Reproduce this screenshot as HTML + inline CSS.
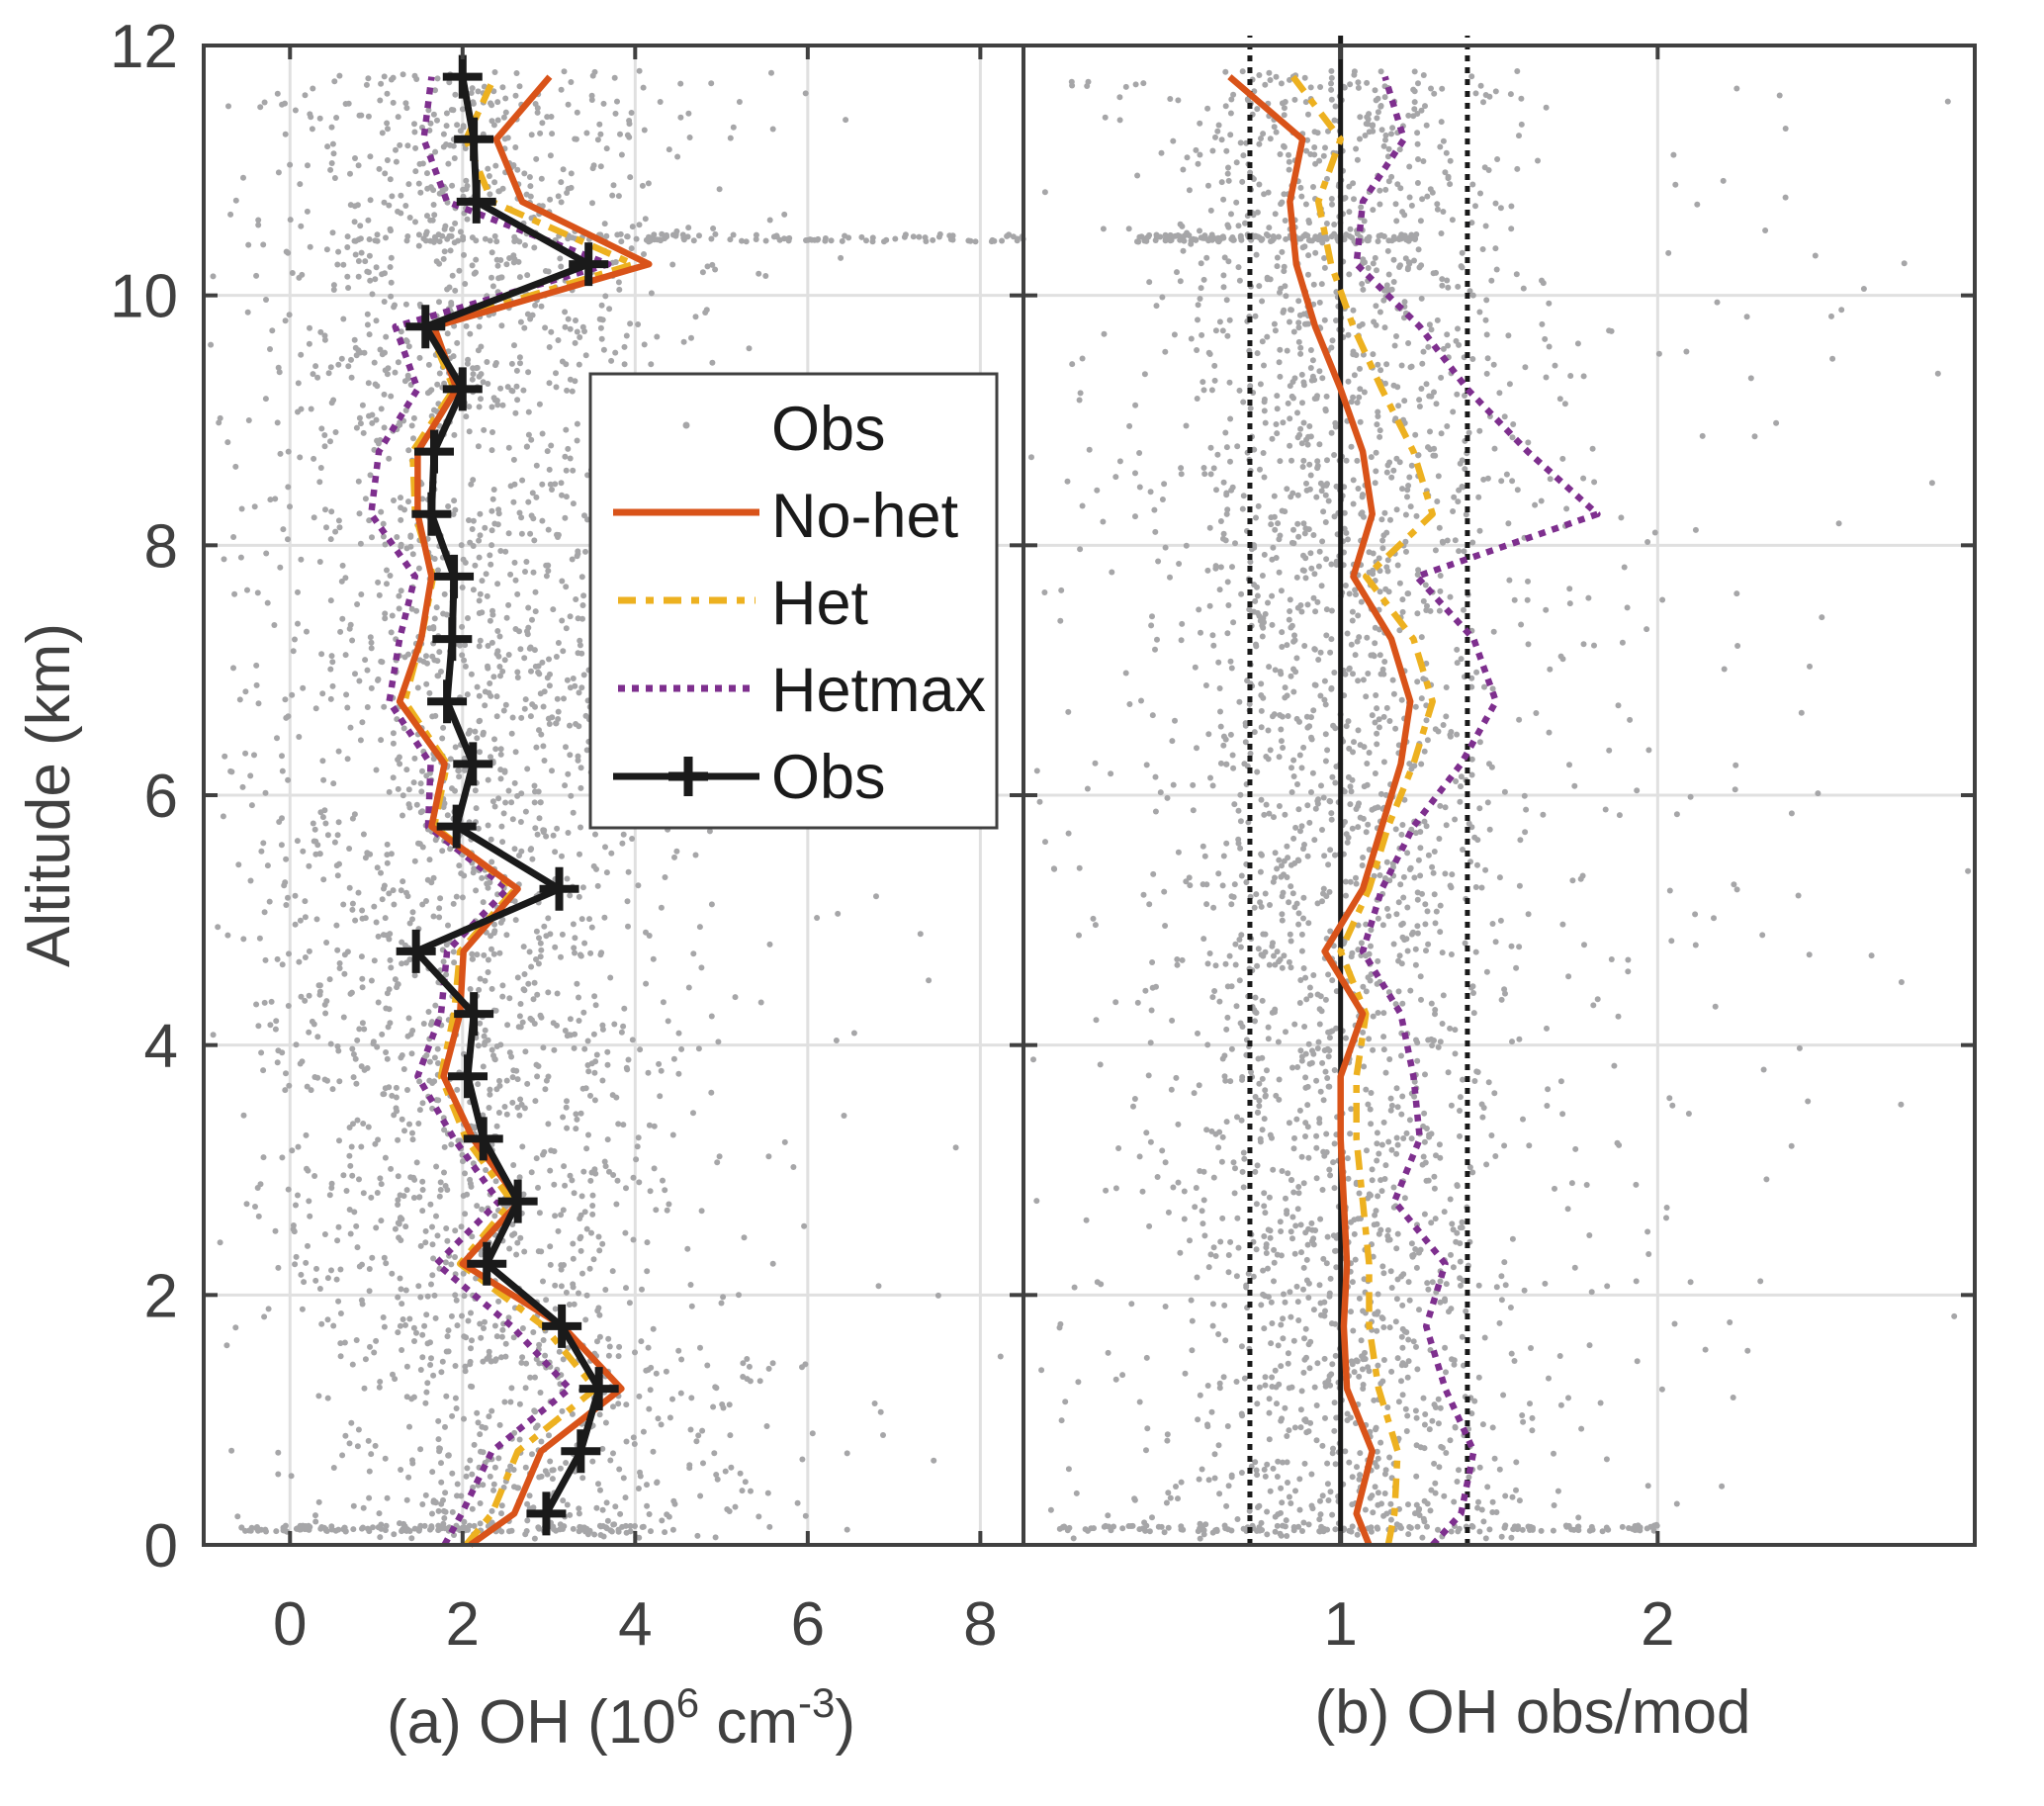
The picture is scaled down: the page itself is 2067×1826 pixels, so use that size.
<!DOCTYPE html>
<html><head><meta charset="utf-8"><style>
html,body{margin:0;padding:0;background:#fff}
svg{display:block}
text{font-family:"Liberation Sans",Arial,sans-serif}
</style></head><body>
<svg id="chart" width="2067" height="1826" viewBox="0 0 2067 1826" xmlns="http://www.w3.org/2000/svg">
<g id="grid"></g>
<g id="dots"></g>
<g id="lines"></g>
<g id="axes"></g>
<g id="legend">
  <rect x="597" y="378" width="411" height="459" fill="#fff" stroke="#404040" stroke-width="3"/>
  <circle cx="694" cy="430" r="3.5" fill="#a6a6a8"/>
  <text x="780" y="455" font-size="63" fill="#1a1a1a">Obs</text>
  <line x1="620" y1="518" x2="768" y2="518" stroke="#d95319" stroke-width="7"/>
  <text x="780" y="543" font-size="63" fill="#1a1a1a">No-het</text>
  <line x1="625" y1="607" x2="764" y2="607" stroke="#edb120" stroke-width="7" stroke-dasharray="18,10,8,10"/>
  <text x="780" y="631" font-size="63" fill="#1a1a1a">Het</text>
  <line x1="625" y1="696" x2="764" y2="696" stroke="#7e2f8e" stroke-width="7" stroke-dasharray="7,7"/>
  <text x="780" y="719" font-size="63" fill="#1a1a1a">Hetmax</text>
  <line x1="620" y1="785" x2="768" y2="785" stroke="#1a1a1a" stroke-width="7"/>
  <path d="M676 785 H716 M696 765 V805" stroke="#1a1a1a" stroke-width="9"/>
  <text x="780" y="807" font-size="63" fill="#1a1a1a">Obs</text>
</g>
</svg>
<script>
// ---- data ----
const altitudes = [0,0.25,0.75,1.25,1.75,2.25,2.75,3.25,3.75,4.25,4.75,5.25,5.75,6.25,6.75,7.25,7.75,8.25,8.75,9.25,9.75,10.25,10.75,11.25,11.75];
const obsAlt = [0.25,0.75,1.25,1.75,2.25,2.75,3.25,3.75,4.25,4.75,5.25,5.75,6.25,6.75,7.25,7.75,8.25,8.75,9.25,9.75,10.25,10.75,11.25,11.75];
const obsOH = [2.97,3.37,3.58,3.15,2.28,2.64,2.24,2.06,2.13,1.46,3.12,1.93,2.12,1.82,1.88,1.9,1.64,1.67,2.0,1.57,3.46,2.16,2.13,2.0];
const noHetOH = [2.09,2.6,2.91,3.84,3.16,2.0,2.66,2.12,1.78,1.97,2.01,2.64,1.64,1.79,1.27,1.52,1.64,1.48,1.48,1.93,1.67,4.16,2.69,2.39,3.01];
const hetOH = [2.04,2.34,2.64,3.54,2.94,1.97,2.57,2.04,1.75,1.9,1.97,2.61,1.67,1.82,1.33,1.52,1.66,1.45,1.42,1.9,1.6,3.98,2.34,2.04,2.37];
const hetmaxOH = [1.79,1.99,2.34,3.24,2.57,1.7,2.42,1.9,1.48,1.75,1.82,2.52,1.6,1.63,1.15,1.27,1.45,0.94,1.03,1.48,1.22,3.69,1.82,1.55,1.64];
const noHetRatio = [1.09,1.05,1.1,1.02,1.01,1.02,1.01,1.0,1.0,1.07,0.95,1.07,1.13,1.19,1.22,1.16,1.04,1.1,1.07,1.0,0.92,0.86,0.84,0.88,0.65];
const hetRatio = [1.15,1.17,1.18,1.12,1.09,1.09,1.07,1.05,1.05,1.08,1.0,1.09,1.15,1.23,1.29,1.23,1.08,1.29,1.23,1.13,1.04,0.97,0.93,1.0,0.85];
const hetmaxRatio = [1.29,1.38,1.42,1.33,1.27,1.33,1.17,1.25,1.23,1.19,1.07,1.13,1.23,1.38,1.49,1.42,1.24,1.81,1.59,1.4,1.25,1.05,1.07,1.2,1.14];
const refLines = [0.714, 1, 1.4];
const yTicks = [0,2,4,6,8,10,12];
const xTicksA = [0,2,4,6,8];
const xTicksB = [1,2];

// ---- axes ----
const Y0=1562, Y1=46;
const AX0=206, AX1=1035, BX0=1035, BX1=1997;
const ay = v => Y0 + (Y1-Y0)*v/12;
const axA = v => AX0 + (AX1-AX0)*(v+1)/9.5;
const axB = v => BX0 + (BX1-BX0)*v/3;
const NS='http://www.w3.org/2000/svg';
function mk(tag, attrs, parent){const e=document.createElementNS(NS,tag);for(const k in attrs)e.setAttribute(k,attrs[k]);parent.appendChild(e);return e;}
const grid=document.getElementById('grid'), dots=document.getElementById('dots'), lines=document.getElementById('lines'), axes=document.getElementById('axes');

yTicks.forEach(t=>{
  let g=mk('line',{x1:AX0,x2:BX1,y1:ay(t),y2:ay(t),stroke:'#e0e0e0','stroke-width':3},grid);
  
  
});
xTicksA.forEach(t=>{
  let g=mk('line',{x1:axA(t),x2:axA(t),y1:Y0,y2:Y1,stroke:'#e0e0e0','stroke-width':3},grid);
  
  
});
xTicksB.forEach(t=>{
  let g=mk('line',{x1:axB(t),x2:axB(t),y1:Y0,y2:Y1,stroke:'#e0e0e0','stroke-width':3},grid);
  
  
});

// decorative background scatter (illustrative texture only, deterministic)
(function(){
  let seed=12345;
  function r(){seed=(seed*1103515245+12345)%2147483648;return seed/2147483648;}
  function g(){return (r()+r()+r()+r()-2)/2;}
  let frag='';
  for(let i=0;i<3000;i++){
    const alt=0.05+r()*11.75;
    let xv = 2.1 + g()*4.2*(r()<0.8?1:2.0) + (alt<1.6?0.8:0);
    if(xv>-0.95 && xv<8.45) frag+=`<circle cx="${axA(xv).toFixed(1)}" cy="${ay(alt).toFixed(1)}" r="3" fill="#a6a6a8"/>`;
    const alt2=0.05+r()*11.75;
    let rv = 1.0 + g()*0.9*(r()<0.75?1:3.2);
    if(rv>0.02 && rv<2.98) frag+=`<circle cx="${axB(rv).toFixed(1)}" cy="${ay(alt2).toFixed(1)}" r="3" fill="#a6a6a8"/>`;
  }
  for(let i=0;i<140;i++){
    frag+=`<circle cx="${axA(0.6+r()*7.9).toFixed(1)}" cy="${ay(10.46+(r()-0.5)*0.06).toFixed(1)}" r="3" fill="#a6a6a8"/>`;
    frag+=`<circle cx="${axB(0.35+r()*0.9).toFixed(1)}" cy="${ay(10.46+(r()-0.5)*0.06).toFixed(1)}" r="3" fill="#a6a6a8"/>`;
    frag+=`<circle cx="${axA(-0.6+r()*4.8).toFixed(1)}" cy="${ay(0.13+(r()-0.5)*0.05).toFixed(1)}" r="3" fill="#a6a6a8"/>`;
    frag+=`<circle cx="${axB(0.1+r()*1.9).toFixed(1)}" cy="${ay(0.13+(r()-0.5)*0.05).toFixed(1)}" r="3" fill="#a6a6a8"/>`;
  }
  dots.innerHTML=frag;
})();

refLines.forEach(v=>{
  let l=mk('line',{x1:axB(v),x2:axB(v),y1:Y0,y2:Y1-10,stroke:'#1a1a1a','stroke-width':5},lines);
  if(v!==1) l.setAttribute('stroke-dasharray','6,6');
  
  
});

function poly(xs, ys, fx, color, dash, name, w){
  const pts=xs.map((x,i)=>fx(x).toFixed(1)+','+ay(ys[i]).toFixed(1)).join(' ');
  const p=mk('polyline',{points:pts,fill:'none',stroke:color,'stroke-width':w||6.5,'stroke-linejoin':'round'},lines);
  if(dash) p.setAttribute('stroke-dasharray',dash);
  
  
}
poly(hetmaxOH,altitudes,axA,'#7e2f8e','7,7','hetmax-line-a');
poly(hetOH,altitudes,axA,'#edb120','20,10,8,10','het-line-a');
poly(noHetOH,altitudes,axA,'#d95319',null,'nohet-line-a');
poly(obsOH,obsAlt,axA,'#1a1a1a',null,'obs-line-a',7);
obsOH.forEach((v,i)=>{
  const cx=axA(v), cy=ay(obsAlt[i]);
  const m=mk('path',{d:`M${cx-20} ${cy} H${cx+20} M${cx} ${cy-22} V${cy+22}`,stroke:'#1a1a1a','stroke-width':8},lines);
  
  
});
poly(hetmaxRatio,altitudes,axB,'#7e2f8e','7,7','hetmax-ratio-line');
poly(hetRatio,altitudes,axB,'#edb120','20,10,8,10','het-ratio-line');
poly(noHetRatio,altitudes,axB,'#d95319',null,'nohet-ratio-line');

[[AX0,AX1],[BX0,BX1]].forEach(([a,b],k)=>{
  const r=mk('rect',{x:a,y:Y1,width:b-a,height:Y0-Y1,fill:'none',stroke:'#404040','stroke-width':4},axes);
  
  
});
yTicks.forEach(t=>{
  [[AX0,1],[AX1,-1],[BX0,1],[BX1,-1]].forEach(([x,d])=>{
    const l=mk('line',{x1:x,x2:x+d*14,y1:ay(t),y2:ay(t),stroke:'#404040','stroke-width':4},axes);
    
    
  });
  const tx=mk('text',{x:180,y:ay(t)+22,'font-size':62,fill:'#404040','text-anchor':'end'},axes);
  tx.textContent=t;
  
  
});
function xt(ticks,fx,name){
  ticks.forEach(t=>{
    [[Y0,-1],[Y1,1]].forEach(([y,d])=>{
      const l=mk('line',{x1:fx(t),x2:fx(t),y1:y,y2:y+d*14,stroke:'#404040','stroke-width':4},axes);
      
      
    });
    const tx=mk('text',{x:fx(t),y:1663,'font-size':62,fill:'#404040','text-anchor':'middle'},axes);
    tx.textContent=t;
    
    
  });
}
xt(xTicksA,axA,'x-tick-label-a');
xt(xTicksB,axB,'x-tick-label-b');

axes.insertAdjacentHTML('beforeend',
 '<text x="628" y="1762" font-size="62" fill="#404040" text-anchor="middle">(a)  OH (10<tspan dy="-26" font-size="42">6</tspan><tspan dy="26"> cm</tspan><tspan dy="-26" font-size="42">-3</tspan><tspan dy="26">)</tspan></text>'+
 '<text x="1550" y="1752" font-size="62" fill="#404040" text-anchor="middle">(b) OH obs/mod</text>'+
 '<text x="0" y="0" font-size="62" fill="#404040" text-anchor="middle" transform="translate(70,804) rotate(-90)">Altitude  (km)</text>');
</script>
</body></html>
